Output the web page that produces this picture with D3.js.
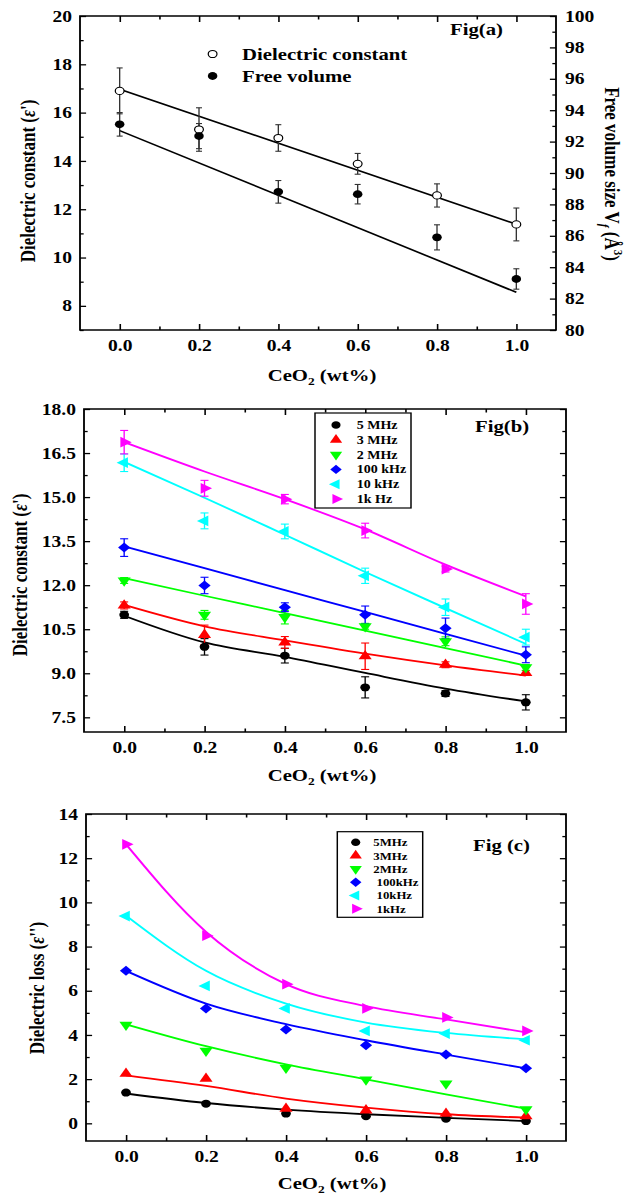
<!DOCTYPE html>
<html lang="en">
<head>
<meta charset="UTF-8"/>
<title>CeO2 dielectric figures</title>
<script src="https://d3js.org/d3.v7.min.js"></script>
<style>
  body { margin: 0; background: #fff; }
  svg text { font-family: "Liberation Serif", "Times New Roman", serif; font-weight: bold; fill: #000; }
</style>
</head>
<body>
<div id="chart"></div>
<script>
var W = 629, H = 1195;
var SX = 1.22;              // the original figure is stretched sideways
function sx(v) { return v / SX; }

// shared x values (CeO2 wt%)
var xValues = [0, 0.2, 0.4, 0.6, 0.8, 1.0];
var xMajor = [0, 0.2, 0.4, 0.6, 0.8, 1.0];
var xMinor = [0.1, 0.3, 0.5, 0.7, 0.9];

// ---- Fig (a)
var aDielectric    = [16.9, 15.3, 14.95, 13.88, 12.57, 11.37];
var aDielectricErr = [0.95, 0.9, 0.55, 0.43, 0.48, 0.68];
var aFreeVolume    = [93.1, 92.35, 88.8, 88.65, 85.9, 83.25];
var aFreeVolumeErr = [0.75, 0.8, 0.72, 0.62, 0.8, 0.65];
var aFitX = [0, 1.0];
var aDielectricFit = [16.97, 11.38];
var aFreeVolumeFit = [92.7, 82.4];
var aLegend = ["Dielectric constant", "Free volume"];

// ---- Fig (b)
var bNames = ["5 MHz", "3 MHz", "2 MHz", "100 kHz", "10 kHz", "1k Hz"];
var bValues = [
  [10.99, 9.9, 9.6, 8.52, 8.31, 8.01],
  [11.31, 10.31, 10.05, 9.58, 9.29, 9.01],
  [12.16, 10.99, 10.91, 10.6, 10.09, 9.2],
  [13.28, 11.99, 11.25, 10.99, 10.53, 9.63],
  [16.17, 14.19, 13.83, 12.32, 11.25, 10.23],
  [16.87, 15.3, 14.93, 13.86, 12.55, 11.36]
];
var bErrors = [
  [0.12, 0.28, 0.25, 0.36, 0.1, 0.26],
  [0.12, 0.33, 0.2, 0.45, 0.1, 0.08],
  [0.1, 0.15, 0.23, 0.1, 0.15, 0.1],
  [0.3, 0.28, 0.15, 0.3, 0.35, 0.27],
  [0.3, 0.27, 0.25, 0.26, 0.28, 0.27],
  [0.4, 0.27, 0.16, 0.25, 0.1, 0.35]
];
var bFits = [
  [10.96, 10.05, 9.56, 9.01, 8.48, 8.04],
  [11.33, 10.6, 10.12, 9.67, 9.27, 8.92],
  [12.24, 11.64, 11.05, 10.45, 9.86, 9.26],
  [13.32, 12.58, 11.83, 11.09, 10.34, 9.6],
  [16.2, 14.98, 13.72, 12.45, 11.22, 10.0],
  [16.87, 15.87, 14.93, 13.9, 12.7, 11.62]
];

// ---- Fig (c)
var cNames = ["5MHz", "3MHz", "2MHz", " 100kHz", " 10kHz", " 1kHz"];
var cValues = [
  [1.39, 0.89, 0.44, 0.32, 0.21, 0.1],
  [2.25, 2.02, 0.66, 0.59, 0.44, 0.32],
  [4.46, 3.28, 2.51, 1.98, 1.8, 0.63],
  [6.9, 5.2, 4.25, 3.53, 3.11, 2.49],
  [9.38, 6.22, 5.2, 4.18, 4.06, 3.76],
  [12.63, 8.49, 6.3, 5.2, 4.79, 4.18]
];
var cFits = [
  [1.35, 0.92, 0.62, 0.41, 0.25, 0.1],
  [2.17, 1.69, 1.12, 0.71, 0.41, 0.26],
  [4.48, 3.49, 2.67, 1.99, 1.31, 0.66],
  [6.9, 5.42, 4.49, 3.76, 3.11, 2.49],
  [9.4, 6.9, 5.42, 4.56, 4.09, 3.8],
  [12.63, 8.67, 6.3, 5.3, 4.7, 4.12]
];

var colors = ["#000000", "#ff0000", "#00ff00", "#0000ff", "#00ffff", "#ff00ff"];
var shapes = ["circle", "up", "down", "diamond", "left", "right"];

var svg = d3.select("#chart").append("svg")
  .attr("width", W)
  .attr("height", H)
  .attr("viewBox", "0 0 " + sx(W) + " " + H)
  .attr("preserveAspectRatio", "none");

function symbolPath(shape, size) {
  if (shape == "circle") return d3.symbol(d3.symbolCircle, size)();
  if (shape == "diamond") return d3.symbol(d3.symbolSquare, size)();
  return d3.symbol(d3.symbolTriangle, size)();
}
function symbolRotate(shape) {
  if (shape == "down") return 180;
  if (shape == "left") return -90;
  if (shape == "right") return 90;
  if (shape == "diamond") return 45;
  return 0;
}
function drawSymbol(g, shape, x, y, size, color) {
  g.append("path")
    .attr("d", symbolPath(shape, size))
    .attr("transform", "translate(" + x + "," + y + ") rotate(" + symbolRotate(shape) + ")")
    .attr("fill", color);
}

function tickAxis(g, axis, scale, values, size, fmt, pad, transform) {
  var a = axis(scale).tickValues(values).tickSize(size).tickSizeOuter(0);
  a.tickFormat(fmt || "");
  if (pad != null) a.tickPadding(pad);
  g.append("g").attr("transform", transform).call(a);
}

// frame, inward ticks on all four sides
function drawAxes(box, x, y, yMajor, yMinor, yFormat, rightLabels) {
  var g = svg.append("g");
  var b = "translate(0," + box.bottom + ")";
  var t = "translate(0," + box.top + ")";
  var l = "translate(" + sx(box.left) + ",0)";
  var r = "translate(" + sx(box.right) + ",0)";
  tickAxis(g, d3.axisBottom, x, xMajor, -6, d3.format(".1f"), 10, b);
  tickAxis(g, d3.axisBottom, x, xMinor, -3.5, null, null, b);
  tickAxis(g, d3.axisTop, x, xMajor, -6, null, null, t);
  tickAxis(g, d3.axisTop, x, xMinor, -3.5, null, null, t);
  tickAxis(g, d3.axisLeft, y, yMajor, -5, yFormat, sx(8), l);
  tickAxis(g, d3.axisLeft, y, yMinor, -3, null, null, l);
  if (rightLabels) {
    tickAxis(g, d3.axisRight, rightLabels.scale, rightLabels.major, -5, d3.format("d"), sx(9), r);
    tickAxis(g, d3.axisRight, rightLabels.scale, rightLabels.minor, -3, null, null, r);
  } else {
    tickAxis(g, d3.axisRight, y, yMajor, -5, null, null, r);
    tickAxis(g, d3.axisRight, y, yMinor, -3, null, null, r);
  }
  g.selectAll(".domain").remove();
  g.selectAll(".tick line").attr("stroke", "#000").attr("stroke-width", 1.3);
  g.selectAll(".tick text")
    .attr("font-family", null)
    .attr("font-size", 16)
    .attr("fill", "#000");
  g.append("rect")
    .attr("x", sx(box.left)).attr("y", box.top)
    .attr("width", sx(box.right - box.left)).attr("height", box.bottom - box.top)
    .attr("fill", "none").attr("stroke", "#000").attr("stroke-width", 1.5);
}

function xTitle(cx, baseline) {
  var t = svg.append("text")
    .attr("x", sx(cx)).attr("y", baseline)
    .attr("text-anchor", "middle").attr("font-size", 17);
  t.append("tspan").text("CeO");
  t.append("tspan").attr("dy", 4).attr("font-size", 11).text("2");
  t.append("tspan").attr("dy", -4).text(" (wt%)");
}

function yTitle(cx, cy, before, italic, after, angle) {
  var t = svg.append("text")
    .attr("transform", "translate(" + sx(cx) + "," + cy + ") rotate(" + angle + ")")
    .attr("text-anchor", "middle").attr("font-size", 17);
  t.append("tspan").text(before);
  t.append("tspan").attr("font-style", "italic").text(italic);
  t.append("tspan").text(after);
  return t;
}

function errorBars(g, x, y, vals, errs, color, cap) {
  vals.forEach(function (v, i) {
    var cx = x(xValues[i]);
    g.append("line")
      .attr("x1", cx).attr("x2", cx)
      .attr("y1", y(v - errs[i])).attr("y2", y(v + errs[i]))
      .attr("stroke", color).attr("stroke-width", 1.1);
    [v - errs[i], v + errs[i]].forEach(function (e) {
      g.append("line")
        .attr("x1", cx - sx(cap / 2)).attr("x2", cx + sx(cap / 2))
        .attr("y1", y(e)).attr("y2", y(e))
        .attr("stroke", color).attr("stroke-width", 1.1);
    });
  });
}

// ================= Fig (a)
var boxA = { left: 80, right: 556, top: 16, bottom: 330 };
var xA = d3.scaleLinear().domain([-0.1, 1.1]).range([sx(boxA.left), sx(boxA.right)]);
var yA = d3.scaleLinear().domain([7, 20]).range([boxA.bottom, boxA.top]);
var yA2 = d3.scaleLinear().domain([80, 100]).range([boxA.bottom, boxA.top]);

drawAxes(boxA, xA, yA, d3.range(8, 21, 2), d3.range(7, 20, 2), d3.format("d"),
  { scale: yA2, major: d3.range(80, 101, 2), minor: d3.range(81, 100, 2) });

var lineA = d3.line().x(function (d) { return xA(d[0]); });
var gA = svg.append("g");
gA.append("path")
  .attr("d", lineA.y(function (d) { return yA(d[1]); })(d3.zip(aFitX, aDielectricFit)))
  .attr("fill", "none").attr("stroke", "#000").attr("stroke-width", 1.6);
gA.append("path")
  .attr("d", lineA.y(function (d) { return yA2(d[1]); })(d3.zip(aFitX, aFreeVolumeFit)))
  .attr("fill", "none").attr("stroke", "#000").attr("stroke-width", 1.6);

errorBars(gA, xA, yA, aDielectric, aDielectricErr, "#333", 6);
errorBars(gA, xA, yA2, aFreeVolume, aFreeVolumeErr, "#333", 6);

gA.selectAll(".open").data(aDielectric).enter().append("circle")
  .attr("cx", function (d, i) { return xA(xValues[i]); })
  .attr("cy", function (d) { return yA(d); })
  .attr("r", 3.6).attr("fill", "#fff").attr("stroke", "#000").attr("stroke-width", 1);
gA.selectAll(".filled").data(aFreeVolume).enter().append("circle")
  .attr("cx", function (d, i) { return xA(xValues[i]); })
  .attr("cy", function (d) { return yA2(d); })
  .attr("r", 3.9).attr("fill", "#000");

// legend (a)
gA.append("circle").attr("cx", sx(212.6)).attr("cy", 54).attr("r", 3.6)
  .attr("fill", "#fff").attr("stroke", "#000");
gA.append("circle").attr("cx", sx(212.6)).attr("cy", 76).attr("r", 3.9).attr("fill", "#000");
aLegend.forEach(function (name, i) {
  svg.append("text").attr("x", sx(242)).attr("y", 60 + i * 22)
    .attr("font-size", 17).text(name);
});
svg.append("text").attr("x", sx(450)).attr("y", 35).attr("font-size", 17).text("Fig(a)");

xTitle(322, 381);
yTitle(35, 181, "Dielectric constant (", "ε", "')", -90);
var rt = svg.append("text")
  .attr("transform", "translate(" + sx(605) + ",174) rotate(90)")
  .attr("text-anchor", "middle").attr("font-size", 17);
rt.append("tspan").text("Free volume size V");
rt.append("tspan").attr("dy", 4).attr("font-size", 11).attr("font-style", "italic").text("f");
rt.append("tspan").attr("dy", -4).text(" (Å");
rt.append("tspan").attr("dy", -7).attr("font-size", 11).text("3");
rt.append("tspan").attr("dy", 7).text(")");

// ================= Fig (b) and (c)
function multiPanel(box, yDomain, yMajor, yMinor, yFormat, values, errors, fits, names, leg, figText, figPos) {
  var x = d3.scaleLinear().domain([-0.1, 1.1]).range([sx(box.left), sx(box.right)]);
  var y = d3.scaleLinear().domain(yDomain).range([box.bottom, box.top]);
  drawAxes(box, x, y, yMajor, yMinor, yFormat, null);

  var g = svg.append("g");
  var line = d3.line()
    .x(function (d, i) { return x(xValues[i]); })
    .y(function (d) { return y(d); })
    .curve(d3.curveMonotoneX);
  fits.forEach(function (f, k) {
    g.append("path").attr("d", line(f))
      .attr("fill", "none").attr("stroke", colors[k]).attr("stroke-width", 1.8);
  });
  if (errors) {
    values.forEach(function (v, k) { errorBars(g, x, y, v, errors[k], colors[k], 8); });
  }
  values.forEach(function (v, k) {
    v.forEach(function (d, i) {
      drawSymbol(g, shapes[k], x(xValues[i]), y(d), 50, colors[k]);
    });
  });

  // legend box
  var lg = svg.append("g");
  lg.append("rect")
    .attr("x", sx(leg.x0)).attr("y", leg.y0)
    .attr("width", sx(leg.x1 - leg.x0)).attr("height", leg.y1 - leg.y0)
    .attr("fill", "#fff").attr("stroke", "#000").attr("stroke-width", 1.2);
  names.forEach(function (name, k) {
    var ry = leg.row0 + k * leg.step;
    drawSymbol(lg, shapes[k], sx(leg.sym), ry, 44, colors[k]);
    lg.append("text")
      .attr("x", sx(leg.text)).attr("y", ry + 4)
      .attr("font-size", leg.font)
      .style("white-space", "pre")
      .text(name);
  });
  svg.append("text").attr("x", sx(figPos[0])).attr("y", figPos[1])
    .attr("font-size", 17).style("white-space", "pre").text(figText);
}

var boxB = { left: 84, right: 566, top: 409, bottom: 732 };
multiPanel(boxB, [7, 18], d3.range(7.5, 18.1, 1.5), d3.range(8.25, 18, 1.5), d3.format(".1f"),
  bValues, bErrors, bFits, bNames,
  { x0: 315, x1: 411, y0: 413, y1: 508, sym: 336, text: 356.7, row0: 425, step: 14.8, font: 11.5 },
  "Fig(b)", [475, 432]);
xTitle(322, 781);
yTitle(27, 575, "Dielectric constant (", "ε", "')", -90);

var boxC = { left: 86, right: 566, top: 814, bottom: 1141 };
multiPanel(boxC, [-0.8, 14], d3.range(0, 15, 2), d3.range(1, 14, 2), d3.format("d"),
  cValues, null, cFits, cNames,
  { x0: 337.3, x1: 422.7, y0: 831.7, y1: 917.3, sym: 355.7, text: 373.3, row0: 842.3, step: 13.3, font: 10.5 },
  "Fig (c)", [473, 851]);
xTitle(332, 1189);
yTitle(44, 988, "Dielectric loss (", "ε", "'')", -90);
</script>
</body>
</html>
